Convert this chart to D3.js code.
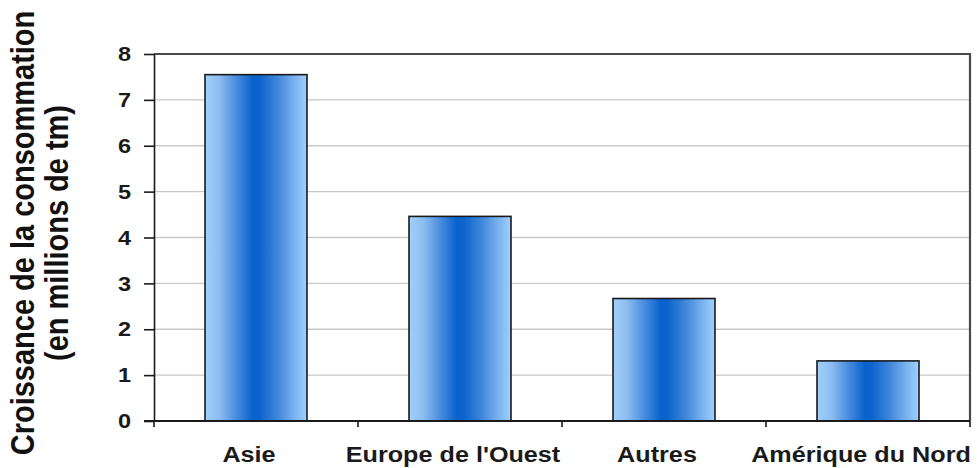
<!DOCTYPE html>
<html>
<head>
<meta charset="utf-8">
<script src="https://cdn.jsdelivr.net/npm/d3@7"></script>
<style>
  html, body { margin: 0; padding: 0; background: #fff; }
  svg { display: block; font-family: "Liberation Sans", Arial, sans-serif; font-weight: bold; }
</style>
</head>
<body>
<svg id="chart" width="980" height="468"></svg>
<script>
// chart data
const categories = ["Asie", "Europe de l'Ouest", "Autres", "Amérique du Nord"];
const values = [7.55, 4.46, 2.67, 1.31];
const yTicks = [0, 1, 2, 3, 4, 5, 6, 7, 8];
const titleLines = ["Croissance de la consommation", "(en millions de tm)"];

const W = 980, H = 468;
const M = { left: 154, right: 10, top: 54, bottom: 47 };
const STRETCH = 1.12; // the source picture is a bit wider than its fonts

const svg = d3.select("#chart");

const x = d3.scaleBand().domain(categories)
  .range([M.left, W - M.right]).paddingInner(0.5).paddingOuter(0.25);
const y = d3.scaleLinear().domain([0, 8]).range([H - M.bottom, M.top]);

// bar gradient (light edges, deep blue middle)
const grad = svg.append("defs").append("linearGradient")
  .attr("id", "barGrad").attr("x1", "0%").attr("x2", "100%").attr("y1", "0%").attr("y2", "0%");
[[0, "#a2d0fb"], [0.14, "#8dbdf0"], [0.3, "#4b8edf"], [0.47, "#0862cc"], [0.53, "#0a63cc"],
 [0.72, "#4288da"], [0.88, "#7cb3ef"], [1, "#9fd0ff"]].forEach(([o, c]) =>
  grad.append("stop").attr("offset", o).attr("stop-color", c));

// gridlines
svg.append("g").selectAll("line")
  .data(yTicks.filter(t => t > 0 && t < 8)).join("line")
  .attr("x1", M.left).attr("x2", W - M.right)
  .attr("y1", d => y(d)).attr("y2", d => y(d))
  .attr("stroke", "#c9c9c9").attr("stroke-width", 1.3);

// plot frame: top and right
svg.append("path")
  .attr("d", `M${M.left},${y(8)}H${W - M.right}V${y(0)}`)
  .attr("fill", "none").attr("stroke", "#4a4a4a").attr("stroke-width", 2.2);

// bars
svg.append("g").selectAll("rect")
  .data(values).join("rect")
  .attr("x", (d, i) => x(categories[i]))
  .attr("width", x.bandwidth())
  .attr("y", d => y(d))
  .attr("height", d => y(0) - y(d))
  .attr("fill", "url(#barGrad)")
  .attr("stroke", "#1a1a1a").attr("stroke-width", 1.6);

// y axis
const yAxis = svg.append("g")
  .attr("transform", `translate(${M.left},0)`)
  .call(d3.axisLeft(y).tickValues(yTicks).tickSize(10).tickSizeOuter(0).tickPadding(13));
yAxis.attr("font-size", 21).attr("font-family", null);
yAxis.select(".domain").attr("stroke", "#1a1a1a").attr("stroke-width", 1.6);
yAxis.selectAll(".tick line").attr("stroke", "#1a1a1a").attr("stroke-width", 1.6);
yAxis.selectAll(".tick text")
  .attr("transform", `scale(${STRETCH},1)`)
  .attr("x", -23 / STRETCH)
  .attr("font-weight", "bold").attr("fill", "#1a1a1a");

// x axis line and category boundary ticks
const step = x.step();
const bounds = d3.range(categories.length + 1).map(i => M.left + i * step);
svg.append("line")
  .attr("x1", M.left - 10).attr("x2", W - M.right)
  .attr("y1", y(0)).attr("y2", y(0))
  .attr("stroke", "#1a1a1a").attr("stroke-width", 1.8);
svg.append("g").selectAll("line")
  .data(bounds).join("line")
  .attr("x1", d => d).attr("x2", d => d)
  .attr("y1", y(0)).attr("y2", y(0) + 6)
  .attr("stroke", "#1a1a1a").attr("stroke-width", 1.6);

// category labels
svg.append("g").selectAll("text")
  .data(categories).join("text")
  .attr("transform", d => `translate(${x(d) + x.bandwidth() / 2 - 7},${y(0) + 41}) scale(${STRETCH},1)`)
  .attr("text-anchor", "middle")
  .attr("font-size", 22.5).attr("fill", "#1a1a1a")
  .text(d => d);

// y title (two rotated lines)
const titleBase = [34, 68];
svg.append("g").selectAll("text")
  .data(titleLines).join("text")
  .attr("transform", (d, i) => `translate(${titleBase[i]},233) scale(${STRETCH},1) rotate(-90)`)
  .attr("text-anchor", "middle")
  .attr("font-size", 29).attr("fill", "#111")
  .text(d => d);
</script>
</body>
</html>
